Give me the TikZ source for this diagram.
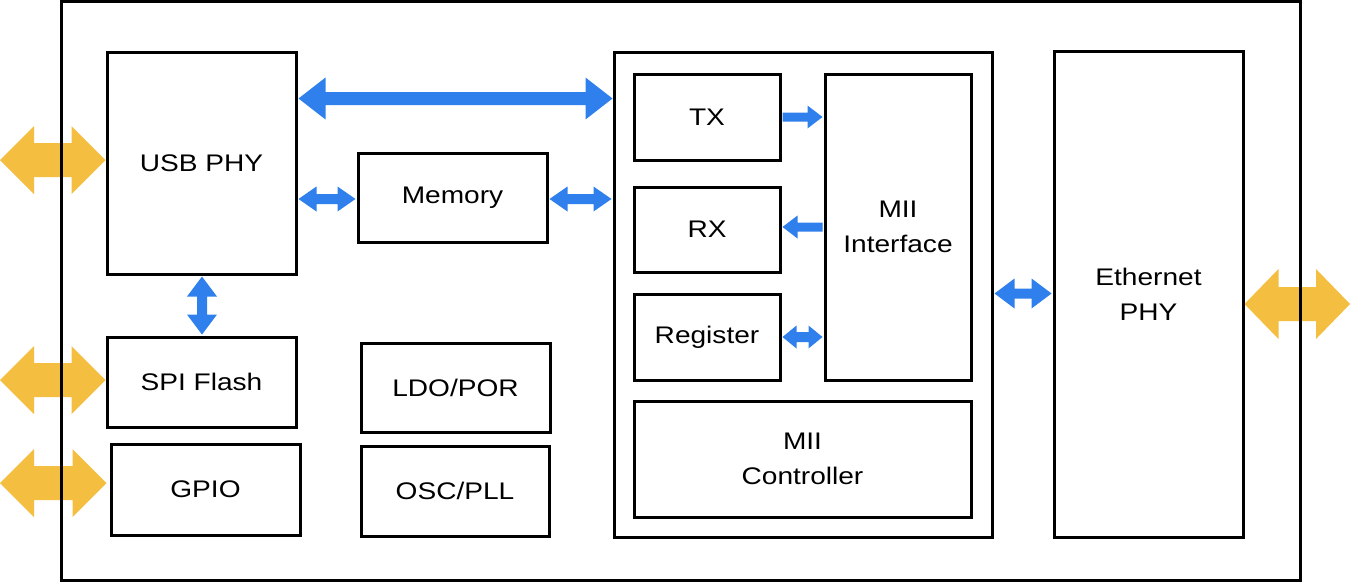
\documentclass[tikz,border=0pt]{standalone}
\usepackage{fontspec}
\setmainfont{Liberation Sans}[FakeStretch=1.17]
\usetikzlibrary{calc}
\definecolor{ablue}{RGB}{47,128,237}
\definecolor{ayel}{RGB}{244,190,64}
\pgfdeclarelayer{bg}
\pgfsetlayers{bg,main}
% horizontal arrow: start, end, shaft half, head half, head len (px), colour
\newcommand\hdbl[6]{%
\fill[#6] let \p1=#1, \p2=#2, \n1={sign(\x2-\x1)} in
 (\x1,\y1) -- ({\x1+(\n1)*#5*0.75pt},{\y1+#4*0.75pt}) -- ({\x1+(\n1)*#5*0.75pt},{\y1+#3*0.75pt})
 -- ({\x2-(\n1)*#5*0.75pt},{\y1+#3*0.75pt}) -- ({\x2-(\n1)*#5*0.75pt},{\y1+#4*0.75pt}) -- (\x2,\y1)
 -- ({\x2-(\n1)*#5*0.75pt},{\y1-#4*0.75pt}) -- ({\x2-(\n1)*#5*0.75pt},{\y1-#3*0.75pt})
 -- ({\x1+(\n1)*#5*0.75pt},{\y1-#3*0.75pt}) -- ({\x1+(\n1)*#5*0.75pt},{\y1-#4*0.75pt}) -- cycle;}
\newcommand\hsgl[6]{%
\fill[#6] let \p1=#1, \p2=#2, \n1={sign(\x2-\x1)} in
 ({\x1},{\y1+#3*0.75pt}) -- ({\x2-(\n1)*#5*0.75pt},{\y1+#3*0.75pt}) -- ({\x2-(\n1)*#5*0.75pt},{\y1+#4*0.75pt})
 -- (\x2,\y1) -- ({\x2-(\n1)*#5*0.75pt},{\y1-#4*0.75pt}) -- ({\x2-(\n1)*#5*0.75pt},{\y1-#3*0.75pt})
 -- ({\x1},{\y1-#3*0.75pt}) -- cycle;}
\newcommand\vdbl[6]{%
\fill[#6] let \p1=#1, \p2=#2, \n1={sign(\y2-\y1)} in
 (\x1,\y1) -- ({\x1+#4*0.75pt},{\y1+(\n1)*#5*0.75pt}) -- ({\x1+#3*0.75pt},{\y1+(\n1)*#5*0.75pt})
 -- ({\x1+#3*0.75pt},{\y2-(\n1)*#5*0.75pt}) -- ({\x1+#4*0.75pt},{\y2-(\n1)*#5*0.75pt}) -- (\x1,\y2)
 -- ({\x1-#4*0.75pt},{\y2-(\n1)*#5*0.75pt}) -- ({\x1-#3*0.75pt},{\y2-(\n1)*#5*0.75pt})
 -- ({\x1-#3*0.75pt},{\y1+(\n1)*#5*0.75pt}) -- ({\x1-#4*0.75pt},{\y1+(\n1)*#5*0.75pt}) -- cycle;}
\begin{document}
\begin{tikzpicture}[x=0.75pt,y=-0.75pt,
  box/.style={draw=black,line width=2.25pt,fill=white,inner sep=0pt,align=center,
    font=\fontsize{18}{26}\selectfont},
  frame/.style={draw=black,line width=2.25pt,inner sep=0pt}]
\useasboundingbox (0,0) rectangle (1351,582);
\begin{pgfonlayer}{bg}
\fill[white] (0,0) rectangle (1351,582);
\end{pgfonlayer}
% outer chip frame
\node[frame,minimum width=1239*0.75pt,minimum height=579*0.75pt] (chip) at (680.5,290.5) {};
% blocks
\node[box,minimum width=189*0.75pt,minimum height=222*0.75pt] (usb) at (201.5,163) {USB PHY};
\node[box,minimum width=189*0.75pt,minimum height=89*0.75pt] (mem) at (452.5,197.5) {Memory};
\node[box,minimum width=189*0.75pt,minimum height=90*0.75pt] (spi) at (201.5,382) {SPI Flash};
\node[box,minimum width=189*0.75pt,minimum height=91*0.75pt] (gpio) at (205.5,489.5) {GPIO};
\node[box,minimum width=189*0.75pt,minimum height=89*0.75pt] (ldo) at (455.5,387.5) {LDO/POR};
\node[box,minimum width=188*0.75pt,minimum height=90*0.75pt] (osc) at (455,491) {OSC/PLL};
\node[box,minimum width=378*0.75pt,minimum height=485*0.75pt] (miic) at (803,294.5) {};
\node[box,minimum width=146*0.75pt,minimum height=86*0.75pt] (tx) at (707,117) {TX};
\node[box,minimum width=146*0.75pt,minimum height=85*0.75pt] (rx) at (707,229.5) {RX};
\node[box,minimum width=146*0.75pt,minimum height=86*0.75pt] (reg) at (707,337) {Register};
\node[box,minimum width=146*0.75pt,minimum height=306*0.75pt] (miif) at (898,227) {MII\\Interface};
\node[box,minimum width=337*0.75pt,minimum height=116*0.75pt] (ctrl) at (802.5,459) {MII\\Controller};
\node[box,minimum width=189*0.75pt,minimum height=486*0.75pt] (eth) at (1148.5,294) {Ethernet\\PHY};
% free ends of the external (yellow) arrows
\coordinate (e1) at (0,160);
\coordinate (e2) at (0,380);
\coordinate (e3) at (0,483);
\coordinate (e4) at (1350,304);
\coordinate (g3) at ($(gpio.west)+(-3,-6.5)$);
\coordinate (bus) at ($(usb.north east)+(1,48)$);
\begin{pgfonlayer}{bg}
\hdbl{(e1)}{(usb.west |- e1)}{17}{34}{34}{ayel}
\hdbl{(e2)}{(spi.west |- e2)}{17}{34}{34}{ayel}
\hdbl{(e3)}{(g3 |- e3)}{17}{34}{34}{ayel}
\hdbl{(eth.east |- e4)}{(e4)}{17}{35}{34}{ayel}
\end{pgfonlayer}
% internal (blue) arrows
\hdbl{(bus)}{(miic.west |- bus)}{6.5}{21}{27}{ablue}
\hdbl{($(usb.east |- mem.west)+(1,1.5)$)}{($(mem.west)+(-1,1.5)$)}{5}{12.5}{18}{ablue}
\hdbl{($(mem.east)+(1,1.5)$)}{($(miic.west |- mem.east)+(-1,1.5)$)}{5}{12.5}{18}{ablue}
\hsgl{($(tx.east)+(1,0)$)}{($(miif.west |- tx.east)+(-1,0)$)}{4.5}{11.5}{15}{ablue}
\hsgl{($(miif.west |- rx.east)+(-1,-2.5)$)}{($(rx.east)+(1,-2.5)$)}{4.5}{11.5}{15}{ablue}
\hdbl{($(reg.east)+(1,0)$)}{($(miif.west |- reg.east)+(-1,0)$)}{5}{11.5}{14}{ablue}
\hdbl{($(miic.east)+(1,-1)$)}{($(eth.west |- miic.east)+(-1,-1)$)}{5}{15}{20}{ablue}
\vdbl{($(usb.south)+(0.5,1)$)}{($(spi.north)+(0.5,-1)$)}{5}{15}{20}{ablue}
\end{tikzpicture}
\end{document}
